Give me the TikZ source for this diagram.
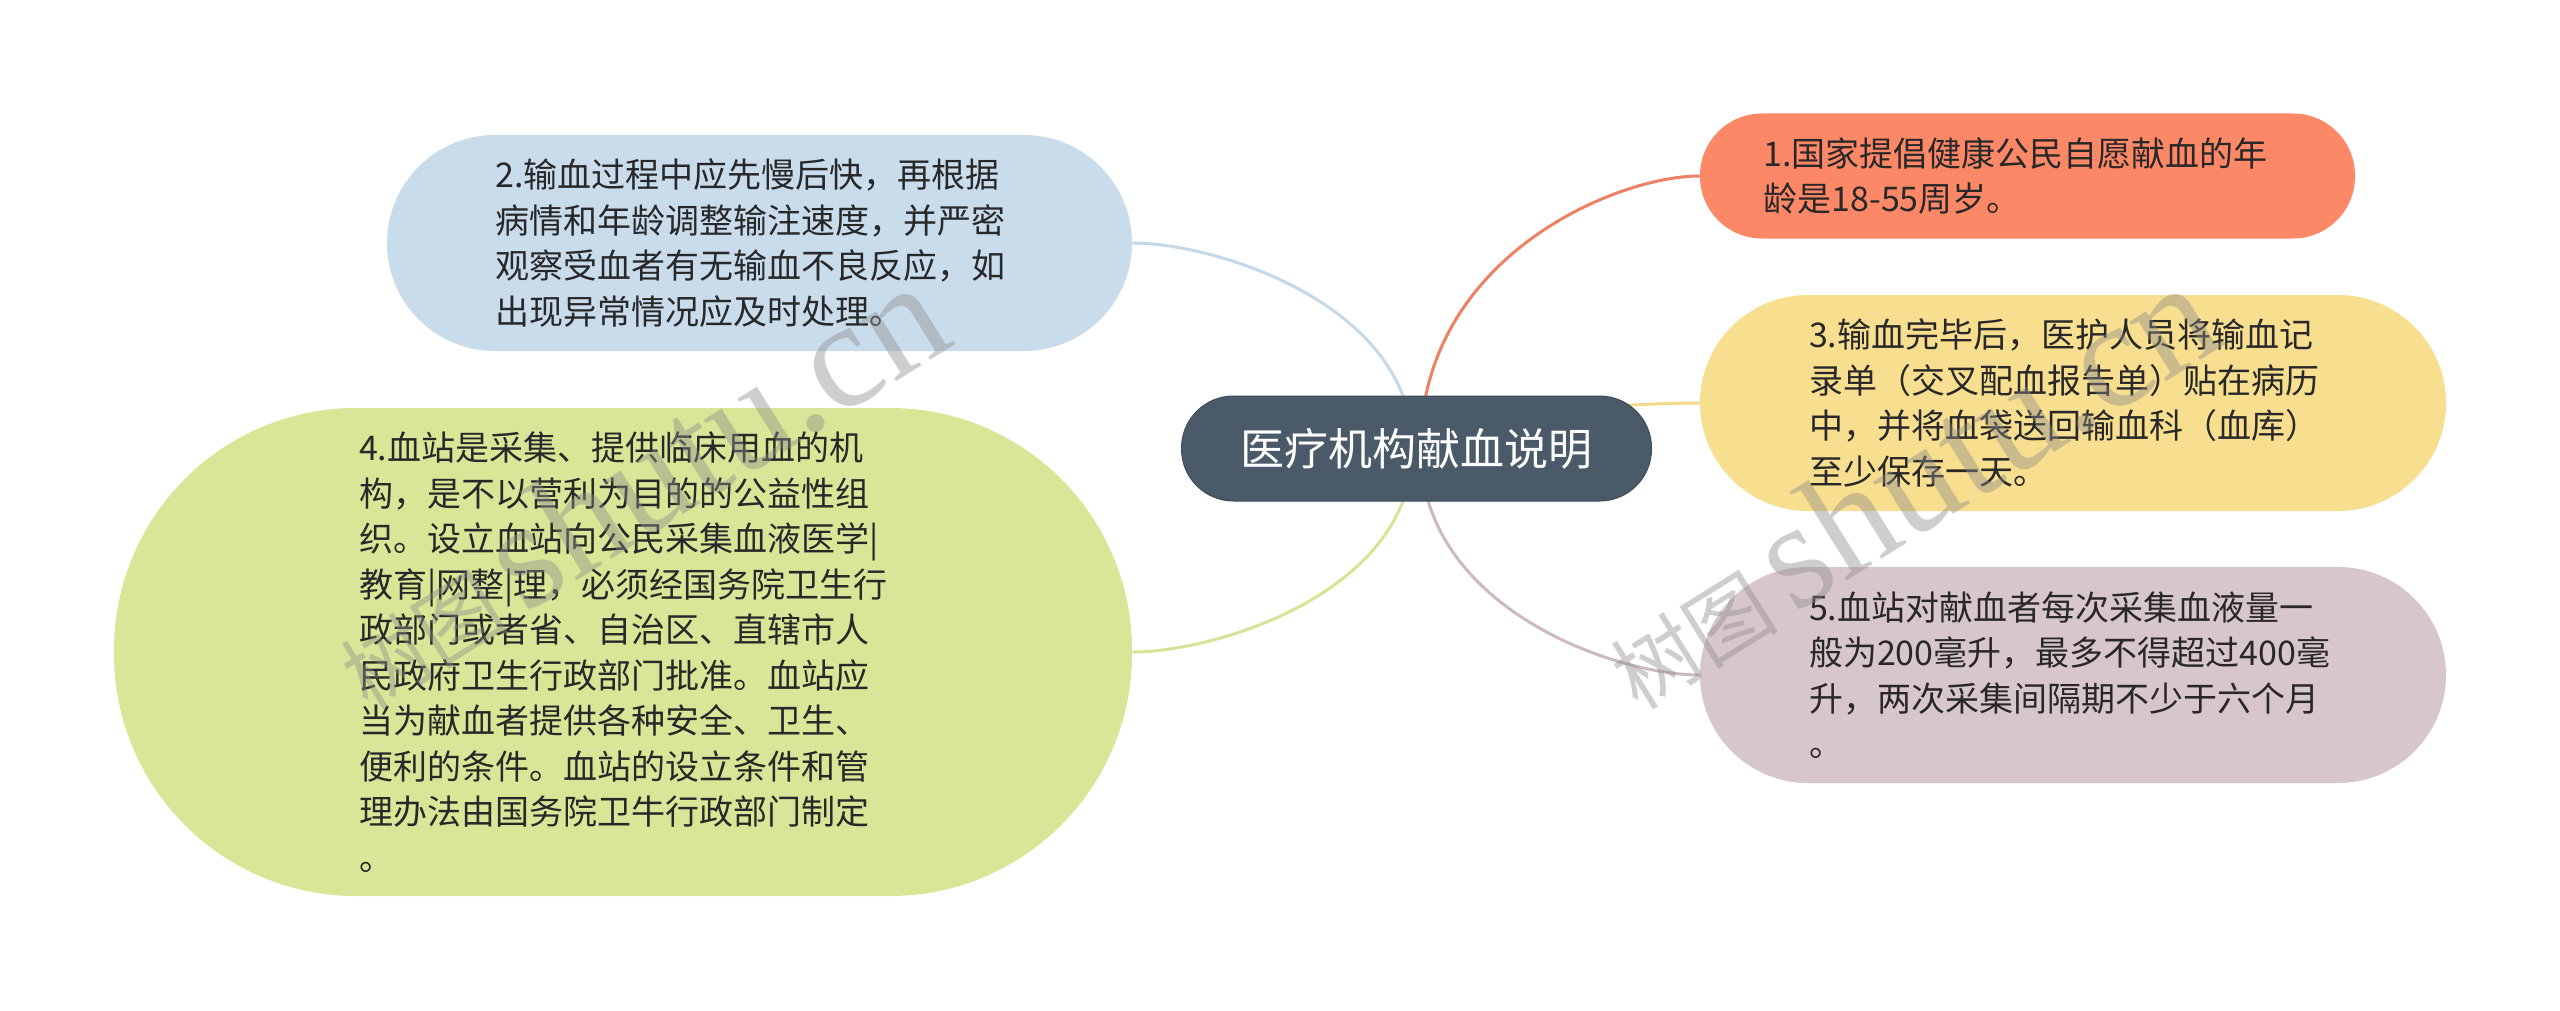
\documentclass[tikz,border=0pt]{standalone}
\usepackage{fontspec}
\setmainfont{Liberation Serif}
\newfontfamily\cjk{Noto Sans CJK SC}
\usetikzlibrary{backgrounds}
\definecolor{ccenter}{RGB}{74,90,105}
\definecolor{corange}{RGB}{253,136,103}
\definecolor{cyellow}{RGB}{248,222,143}
\definecolor{cmauve}{RGB}{216,198,206}
\definecolor{cblue}{RGB}{201,220,236}
\definecolor{cgreen}{RGB}{217,230,151}
\definecolor{lorange}{RGB}{238,128,100}
\definecolor{lyellow}{RGB}{245,218,140}
\definecolor{lmauve}{RGB}{205,185,195}
\definecolor{lblue}{RGB}{197,216,232}
\definecolor{lgreen}{RGB}{215,228,150}
\definecolor{txt}{RGB}{40,40,40}
\begin{document}
\begin{tikzpicture}[x=0.5pt,y=-0.5pt,
  bubble/.style={rectangle, inner sep=0pt, align=left, text width=264pt,
    font=\cjk\fontsize{17pt}{22.75pt}\selectfont, text=txt},
  hub/.style={rectangle, inner sep=0pt, fill=ccenter, draw=ccenter!85!black, line width=0.5pt,
    text=white, font=\cjk\fontsize{22pt}{26pt}\selectfont,
    minimum width=235pt, minimum height=52.5pt, rounded corners=26pt},
  link/.style={line width=1.5pt},
  wm/.style={text=black!45, text opacity=0.42, inner sep=0pt}]
\useasboundingbox (0,0) rectangle (2560,1011);

\node[hub] (c) at (1416.5,448.5) {医疗机构献血说明};

\node[bubble, fill=corange, minimum width=327.5pt, minimum height=62.5pt, rounded corners=31pt] (n1) at (2027.5,176)
  {1.国家提倡健康公民自愿献血的年\\龄是18-55周岁。};
\node[bubble, fill=cyellow, minimum width=373pt, minimum height=108pt, rounded corners=54pt] (n3) at (2073,403)
  {3.输血完毕后，医护人员将输血记\\录单（交叉配血报告单）贴在病历\\中，并将血袋送回输血科（血库）\\至少保存一天。};
\node[bubble, fill=cmauve, minimum width=373pt, minimum height=108pt, rounded corners=54pt] (n5) at (2073,675)
  {5.血站对献血者每次采集血液量一\\般为200毫升，最多不得超过400毫\\升，两次采集间隔期不少于六个月\\。};
\node[bubble, fill=cblue, minimum width=372.5pt, minimum height=108pt, rounded corners=54pt] (n2) at (759.5,243)
  {2.输血过程中应先慢后快，再根据\\病情和年龄调整输注速度，并严密\\观察受血者有无输血不良反应，如\\出现异常情况应及时处理。};
\node[bubble, fill=cgreen, minimum width=509pt, minimum height=244pt, rounded corners=121pt] (n4) at (623,652)
  {4.血站是采集、提供临床用血的机\\构，是不以营利为目的的公益性组\\织。设立血站向公民采集血液医学|\\教育|网整|理，必须经国务院卫生行\\政部门或者省、自治区、直辖市人\\民政府卫生行政部门批准。血站应\\当为献血者提供各种安全、卫生、\\便利的条件。血站的设立条件和管\\理办法由国务院卫牛行政部门制定\\。};

\begin{scope}[on background layer]
  \fill[white] (0,0) rectangle (2560,1011);
  \draw[link, lorange] ([xshift=2pt]c.center) .. controls +(0,-190) and +(-85,0) .. (n1.west);
  \draw[link, lyellow] (c.center) .. controls +(0,-31) and +(-85,0) .. (n3.west);
  \draw[link, lmauve] ([xshift=2pt]c.center) .. controls +(0,159) and +(-85,0) .. (n5.west);
  \draw[link, lblue] ([xshift=-2pt]c.center) .. controls +(0,-143) and +(85,0) .. (n2.east);
  \draw[link, lgreen] ([xshift=-2pt]c.center) .. controls +(0,143) and +(85,0) .. (n4.east);
\end{scope}

\node[wm, rotate=32, anchor=base west] (wm1) at (368,712)
  {{\cjk\fontsize{42pt}{42pt}\selectfont 树图}\hspace{8pt}{\fontsize{76pt}{76pt}\selectfont shutu.cn}};
\node[wm, rotate=32, anchor=base west] (wm2) at (1638,712)
  {{\cjk\fontsize{42pt}{42pt}\selectfont 树图}\hspace{8pt}{\fontsize{76pt}{76pt}\selectfont shutu.cn}};
\end{tikzpicture}
\end{document}
